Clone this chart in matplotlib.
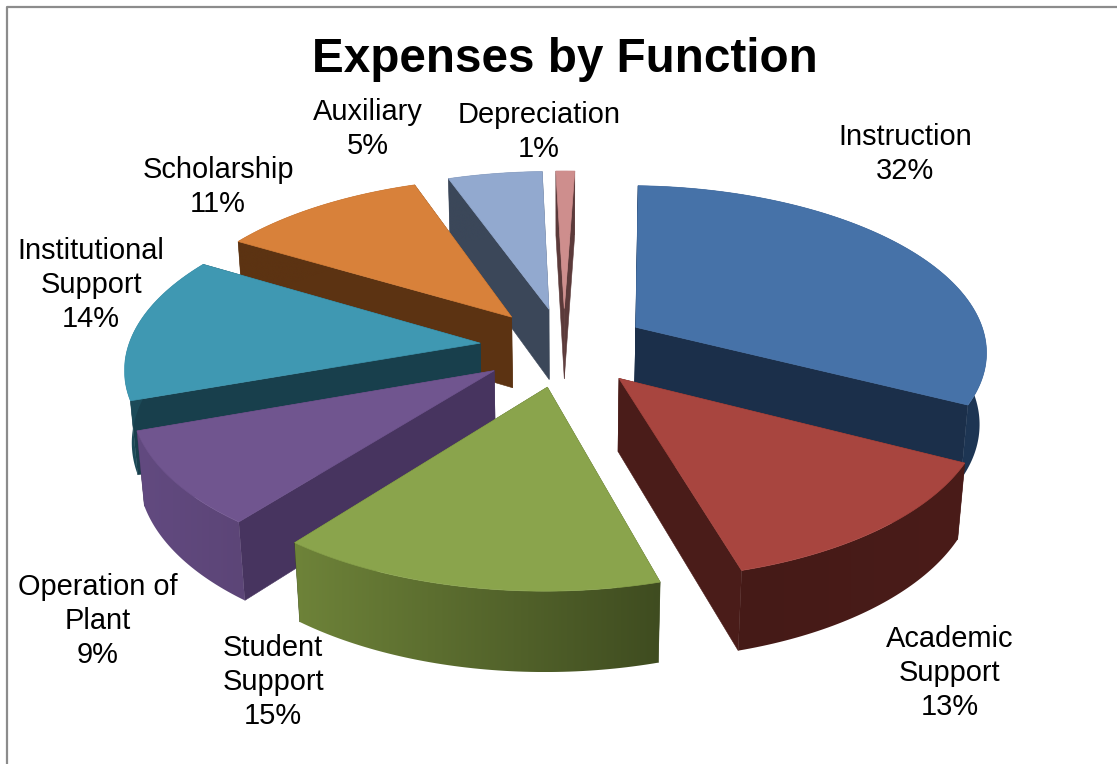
import numpy as np
import matplotlib
matplotlib.use("Agg")
import matplotlib.pyplot as plt
from matplotlib.colors import LinearSegmentedColormap
from matplotlib.patches import Polygon

labels = ["Instruction", "Academic\nSupport", "Student\nSupport", "Operation of\nPlant",
          "Institutional\nSupport", "Scholarship", "Auxiliary", "Depreciation"]
values = [32, 13, 15, 9, 14, 11, 5, 1]

top_colors = ["#4672A8", "#A8453F", "#8AA44C", "#70558F", "#3F98B2", "#D8813A", "#92A9CF", "#CE8E8D"]
side_colors = ["#1B2F4A", "#4A1C19", "#3F4C20", "#47345F", "#183F4C", "#5C3312", "#3B4759", "#5B3A3A"]
wall_left = ["#1C3150", "#451A17", "#6E8339", "#624A80", "#1C4A58", "#5C3312", "#3B4759", "#5B3A3A"]
wall_right = ["#1E3654", "#4A1C19", "#3F4C20", "#5C4577", "#1C4A58", "#5C3312", "#3B4759", "#5B3A3A"]
label_pos = [(905, 154), (950, 673), (273, 682), (98, 621), (91, 285), (218, 187), (368, 129), (539, 132)]

# camera and pie geometry, lengths in pie radii
cx, cy = 564, 347
focal = 352
tilt = np.radians(28.0)
persp = 0.15
explode = 0.24
height = 0.235
rotation = 2.0


def project(x, y, z):
    w = 1 + persp * (y * np.cos(tilt) - z * np.sin(tilt))
    v = y * np.sin(tilt) + z * np.cos(tilt)
    return cx + focal * x / w, cy - focal * v / w


fig = plt.figure(figsize=(11.17, 7.64), dpi=100)
ax = fig.add_axes([0, 0, 1, 1])
ax.axis("off")

# frame, only top and left edges are in view
ax.plot([6.5, 6.5, 1117], [764, 6.5, 6.5], color="#8C8C8C", lw=1.6, solid_capstyle="butt")

edges = np.cumsum([0] + values) / sum(values) * 360 + rotation
mids = (edges[:-1] + edges[1:]) / 2

# far slices first so nearer ones cover them
order = sorted(range(len(values)), key=lambda k: -np.cos(np.radians(mids[k])))

for z, i in enumerate(order):
    ox = explode * np.sin(np.radians(mids[i]))
    oy = explode * np.cos(np.radians(mids[i]))
    angles = np.radians(np.linspace(edges[i], edges[i + 1], max(int(values[i] * 4), 8) + 1))
    rim_x = ox + np.sin(angles)
    rim_y = oy + np.cos(angles)

    # radial faces
    for k in (0, -1):
        face = [project(ox, oy, 0), project(rim_x[k], rim_y[k], 0),
                project(rim_x[k], rim_y[k], -height), project(ox, oy, -height)]
        ax.add_patch(Polygon(face, closed=True, fc=side_colors[i], ec=side_colors[i], lw=0.4, zorder=z * 3 + 1))

    # outer wall, a left to right gradient clipped to the wall outline
    wall = [project(a, b, 0) for a, b in zip(rim_x, rim_y)]
    wall += [project(a, b, -height) for a, b in zip(rim_x[::-1], rim_y[::-1])]
    wall_xy = np.array(wall)
    outline = Polygon(wall, closed=True, fc="none", ec="none", transform=ax.transData)
    ax.add_patch(outline)
    cmap = LinearSegmentedColormap.from_list("wall", [wall_left[i], wall_right[i]])
    img = ax.imshow(np.linspace(0, 1, 256)[None, :], cmap=cmap, aspect="auto", interpolation="bilinear",
                    extent=(wall_xy[:, 0].min(), wall_xy[:, 0].max(), wall_xy[:, 1].max(), wall_xy[:, 1].min()),
                    zorder=z * 3 + 1.5)
    img.set_clip_path(outline)

    # top surface
    pts = [project(ox, oy, 0)] + [project(a, b, 0) for a, b in zip(rim_x, rim_y)]
    ax.add_patch(Polygon(pts, closed=True, fc=top_colors[i], ec=top_colors[i], lw=0.5, zorder=z * 3 + 2))

ax.set_xlim(0, 1117)
ax.set_ylim(764, 0)

ax.text(565, 60, "Expenses by Function", fontsize=34.3, fontweight="bold", family="Liberation Sans",
        ha="center", va="center", color="black", zorder=100)

for name, val, (tx, ty) in zip(labels, values, label_pos):
    ax.text(tx, ty, f"{name}\n{val}%", fontsize=20.9, family="Liberation Sans",
            ha="center", va="center", linespacing=1.28, color="black", zorder=100)

fig.savefig("out.png", dpi=100)
